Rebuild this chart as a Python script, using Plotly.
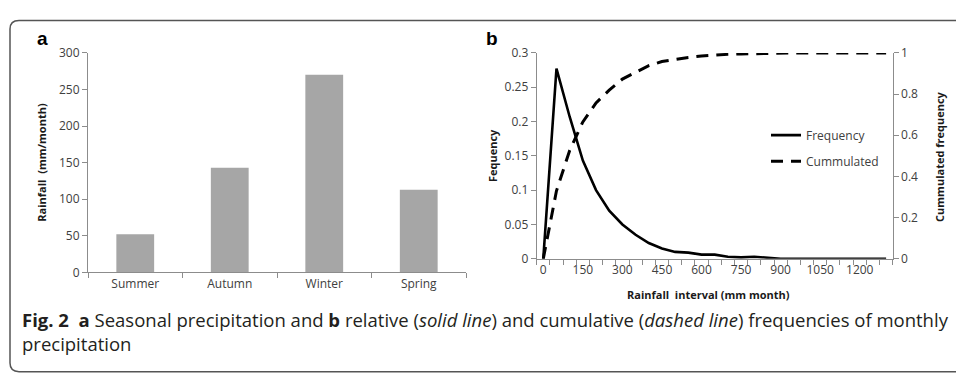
import plotly.graph_objects as go

W, H = 956, 373

# Panel a: seasonal precipitation (mm/month)
seasons = ["Summer", "Autumn", "Winter", "Spring"]
rain = [52, 143, 270, 113]

# Panel b: monthly rainfall intervals (mm) with relative and cumulative frequency
intervals = [0, 50, 100, 150, 200, 250, 300, 350, 400, 450, 500, 550, 600, 650,
             700, 750, 800, 850, 900, 950, 1000, 1050, 1100, 1150, 1200, 1250, 1300]
frequency = [0, 0.277, 0.207, 0.143, 0.100, 0.070, 0.050, 0.035, 0.023, 0.015,
             0.010, 0.009, 0.006, 0.006, 0.003, 0.002, 0.003, 0.001, 0, 0,
             0, 0, 0, 0, 0, 0, 0]
cumulated = [0, 0.33, 0.526, 0.665, 0.757, 0.819, 0.873, 0.907, 0.938, 0.958,
             0.969, 0.978, 0.985, 0.990, 0.993, 0.995, 0.997, 0.999, 1, 1,
             1, 1, 1, 1, 1, 1, 1]
interval_ticks = [0, 150, 300, 450, 600, 750, 900, 1050, 1200]
interval_bounds = [v - 25 for v in intervals] + [intervals[-1] + 25]


def px_x(p):
    return p / W


def px_y(p):
    return 1 - p / H


TICK_FONT = dict(family="Open Sans", size=12, color="#404040")
TITLE_FONT = dict(family="Open Sans", size=11, color="#1a1a1a")
CAPTION_FONT = dict(family="Open Sans", size=18.5, color="#231f20")
AXIS_GRAY = "#8c8c8c"

fig = go.Figure()

fig.add_trace(go.Bar(
    x=seasons, y=rain, marker=dict(color="#a6a6a6", line=dict(width=0)),
    xaxis="x", yaxis="y", showlegend=False, hoverinfo="x+y",
))

fig.add_trace(go.Scatter(
    x=intervals, y=frequency, mode="lines", name="Frequency",
    line=dict(color="black", width=2.6), xaxis="x2", yaxis="y2",
    legendgroup="f",
))
fig.add_trace(go.Scatter(
    x=intervals, y=cumulated, mode="lines", name="Cummulated",
    line=dict(color="black", width=3, dash="12px,8px"), xaxis="x2", yaxis="y3",
    legendgroup="c",
))

fig.update_layout(
    width=W, height=H,
    margin=dict(l=0, r=0, t=0, b=0),
    paper_bgcolor="white", plot_bgcolor="white",
    bargap=0.6,
    xaxis=dict(
        domain=[px_x(88), px_x(466)], anchor="y",
        type="category", tickson="boundaries",
        showline=True, linecolor=AXIS_GRAY, linewidth=1,
        ticks="outside", ticklen=5, tickcolor=AXIS_GRAY,
        tickfont=TICK_FONT, showgrid=False, fixedrange=True,
    ),
    yaxis=dict(
        domain=[px_y(276), px_y(46)], anchor="x",
        range=[0, 300], tickvals=[0, 50, 100, 150, 200, 250, 300],
        showline=True, linecolor=AXIS_GRAY, linewidth=1,
        ticks="outside", ticklen=5, tickcolor=AXIS_GRAY,
        tickfont=TICK_FONT, showgrid=False, zeroline=False, fixedrange=True,
    ),
    xaxis2=dict(
        domain=[px_x(536.7), px_x(892.7)], anchor="y2",
        range=[intervals[0] - 25, intervals[-1] + 25],
        tickvals=interval_ticks, ticks="",
        minor=dict(tickvals=interval_bounds, ticks="outside", ticklen=5,
                   tickcolor=AXIS_GRAY, showgrid=False),
        showline=True, linecolor=AXIS_GRAY, linewidth=1,
        tickfont=TICK_FONT, showgrid=False, zeroline=False, fixedrange=True,
    ),
    yaxis2=dict(
        domain=[px_y(261.7), px_y(46)], anchor="x2",
        range=[0, 0.3], tickvals=[0, 0.05, 0.1, 0.15, 0.2, 0.25, 0.3],
        ticktext=["0", "0.05", "0.1", "0.15", "0.2", "0.25", "0.3"],
        showline=True, linecolor=AXIS_GRAY, linewidth=1,
        ticks="outside", ticklen=5, tickcolor=AXIS_GRAY,
        tickfont=TICK_FONT, showgrid=False, zeroline=False, fixedrange=True,
    ),
    yaxis3=dict(
        overlaying="y2", side="right", anchor="x2",
        range=[0, 1], tickvals=[0, 0.2, 0.4, 0.6, 0.8, 1],
        ticktext=["0", "0.2", "0.4", "0.6", "0.8", "1"],
        showline=True, linecolor=AXIS_GRAY, linewidth=1,
        ticks="outside", ticklen=5, tickcolor=AXIS_GRAY,
        tickfont=TICK_FONT, showgrid=False, zeroline=False, fixedrange=True,
    ),
    legend=dict(
        x=px_x(766), y=px_y(117), xanchor="left", yanchor="top",
        bgcolor="rgba(0,0,0,0)", borderwidth=0,
        font=dict(family="Open Sans", size=12, color="#404040"),
        traceorder="grouped", tracegroupgap=7,
    ),
)

annotations = [
    # panel letters
    dict(text="<b>a</b>", x=px_x(35), y=px_y(44), xanchor="left", yanchor="bottom",
         font=dict(family="Liberation Sans", size=19, color="black")),
    dict(text="<b>b</b>", x=px_x(484), y=px_y(44), xanchor="left", yanchor="bottom",
         font=dict(family="Liberation Sans", size=19, color="black")),
    # axis titles
    dict(text="<b>Rainfall  (mm/month)</b>", x=px_x(42), y=px_y(161),
         textangle=-90, xanchor="center", yanchor="middle", font=TITLE_FONT),
    dict(text="<b>Fequency</b>", x=px_x(492), y=px_y(153),
         textangle=-90, xanchor="center", yanchor="middle", font=TITLE_FONT),
    dict(text="<b>Cummulated frequency</b>", x=px_x(940), y=px_y(155),
         textangle=-90, xanchor="center", yanchor="middle", font=TITLE_FONT),
    dict(text="<b>Rainfall  interval (mm month)</b>", x=px_x(708), y=px_y(299),
         xanchor="center", yanchor="middle", font=TITLE_FONT),
    # figure caption
    dict(text=("<b>Fig. 2</b>  <b>a</b> Seasonal precipitation and <b>b</b> relative "
               "(<i>solid line</i>) and cumulative (<i>dashed line</i>) frequencies of monthly"),
         x=px_x(20), y=px_y(325), xanchor="left", yanchor="middle", font=CAPTION_FONT),
    dict(text="precipitation",
         x=px_x(20), y=px_y(350), xanchor="left", yanchor="middle", font=CAPTION_FONT),
]
for a in annotations:
    a.update(xref="paper", yref="paper", showarrow=False)
fig.update_layout(annotations=annotations)

# rounded outer frame, open on the right; its bottom edge sits below the page
x0, x1 = px_x(10), px_x(1000)
yt, yb = px_y(12), px_y(380)
rx, ry = 9 / W, 9 / H
frame = (f"M {x1},{yt} L {x0 + rx},{yt} Q {x0},{yt} {x0},{yt - ry} "
         f"L {x0},{yb + ry} Q {x0},{yb} {x0 + rx},{yb} L {x1},{yb}")
fig.add_shape(type="path", path=frame, xref="paper", yref="paper",
              line=dict(color="#555555", width=1.5))

fig.write_html("out.html")
